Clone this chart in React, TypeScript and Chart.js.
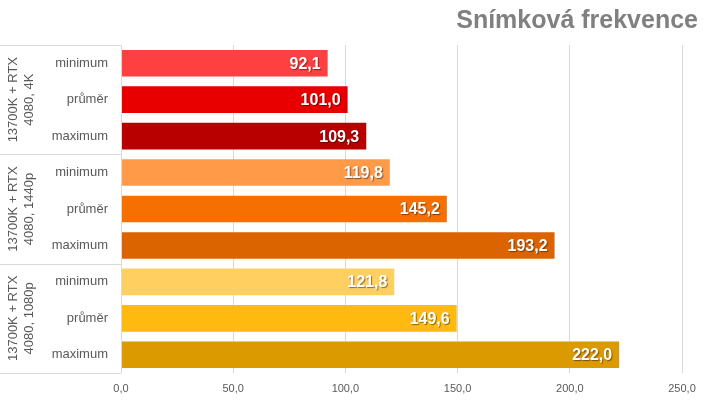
import React, { useEffect, useRef } from "react";
import { Chart, registerables } from "chart.js";

Chart.register(...registerables);

const title = "Snímková frekvence";
const categories = ["minimum", "průměr", "maximum", "minimum", "průměr", "maximum", "minimum", "průměr", "maximum"];
const groups = [
  ["13700K + RTX", "4080, 4K"],
  ["13700K + RTX", "4080, 1440p"],
  ["13700K + RTX", "4080, 1080p"],
];
const values = [92.1, 101.0, 109.3, 119.8, 145.2, 193.2, 121.8, 149.6, 222.0];
const colors = ["#FF4040", "#E80000", "#B80000", "#FF9A48", "#F57000", "#DB6300", "#FFD060", "#FFBA10", "#DB9A00"];
const xMax = 250;
const xStep = 50;

const fmt = (v: number) => v.toFixed(1).replace(".", ",");
const FONT = "'Liberation Sans', Arial, sans-serif";

const overlay = {
  id: "overlay",
  afterDatasetsDraw(chart: any) {
    const ctx = chart.ctx;
    const meta = chart.getDatasetMeta(0);
    ctx.save();
    ctx.font = `bold 16px ${FONT}`;
    ctx.textAlign = "right";
    ctx.textBaseline = "middle";
    meta.data.forEach((bar: any, i: number) => {
      ctx.shadowColor = "rgba(0,0,0,0.45)";
      ctx.shadowOffsetX = 1;
      ctx.shadowOffsetY = 1;
      ctx.shadowBlur = 1;
      ctx.fillStyle = "#ffffff";
      ctx.fillText(fmt(values[i]), bar.x - 7, bar.y + 1);
    });
    ctx.restore();
  },
  afterDraw(chart: any) {
    const ctx = chart.ctx;
    const area = chart.chartArea;
    const y = chart.scales.y;
    ctx.save();
    ctx.strokeStyle = "#d9d9d9";
    ctx.lineWidth = 1;
    ctx.beginPath();
    ctx.moveTo(Math.round(area.left) + 0.5, area.top);
    ctx.lineTo(Math.round(area.left) + 0.5, area.bottom);
    ctx.stroke();
    const n = groups.length;
    const per = categories.length / n;
    const boundary = (g: number) =>
      g === 0 ? area.top : g === n ? area.bottom : (y.getPixelForValue(g * per - 1) + y.getPixelForValue(g * per)) / 2;
    for (let g = 0; g <= n; g++) {
      const yy = boundary(g);
      ctx.beginPath();
      ctx.moveTo(0, Math.round(yy) + 0.5);
      ctx.lineTo(area.left, Math.round(yy) + 0.5);
      ctx.stroke();
    }
    ctx.fillStyle = "#595959";
    ctx.font = `13px ${FONT}`;
    ctx.textAlign = "center";
    ctx.textBaseline = "middle";
    groups.forEach((lines, g) => {
      const cy = (boundary(g) + boundary(g + 1)) / 2;
      lines.forEach((line, li) => {
        ctx.save();
        ctx.translate(13 + li * 16, cy);
        ctx.rotate(-Math.PI / 2);
        ctx.fillText(line, 0, 0);
        ctx.restore();
      });
    });
    ctx.fillStyle = "#808080";
    ctx.font = `bold 25px ${FONT}`;
    ctx.textAlign = "right";
    ctx.textBaseline = "middle";
    ctx.fillText(title, 698, 21);
    ctx.restore();
  },
};

export default function App() {
  const ref = useRef<HTMLCanvasElement>(null);
  useEffect(() => {
    document.body.style.margin = "0";
    const chart = new Chart(ref.current!, {
      type: "bar",
      data: {
        labels: categories,
        datasets: [
          {
            data: values,
            backgroundColor: colors,
            barPercentage: 0.73,
            categoryPercentage: 1,
          },
        ],
      },
      options: {
        indexAxis: "y",
        responsive: false,
        animation: false,
        layout: { padding: { top: 45, right: 38, left: 0, bottom: 0 } },
        plugins: { legend: { display: false }, tooltip: { enabled: false }, title: { display: false } },
        scales: {
          x: {
            min: 0,
            max: xMax,
            ticks: {
              stepSize: xStep,
              color: "#595959",
              font: { size: 11, family: FONT },
              callback: (v: any) => fmt(Number(v)),
              padding: 9,
            },
            grid: { color: "#d9d9d9", drawTicks: false },
            border: { display: false },
            afterFit: (s: any) => {
              s.height = 32;
            },
          },
          y: {
            ticks: {
              color: "#595959",
              font: { size: 13, family: FONT },
              padding: 13,
            },
            grid: { display: false, drawTicks: false },
            border: { display: false },
            afterFit: (s: any) => {
              s.width = 121;
            },
          },
        },
      },
      plugins: [overlay],
    });
    return () => chart.destroy();
  }, []);
  return (
    <div style={{ width: 720, height: 405 }}>
      <canvas ref={ref} width={720} height={405} />
    </div>
  );
}
